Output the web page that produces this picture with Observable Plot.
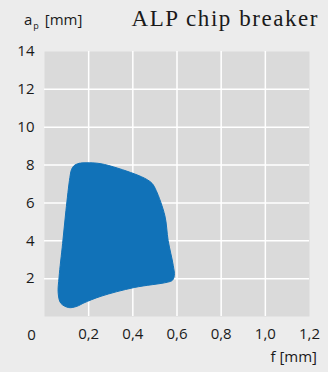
<!DOCTYPE html>
<html>
<head>
<meta charset="utf-8">
<script src="https://cdn.jsdelivr.net/npm/d3@7"></script>
<script src="https://cdn.jsdelivr.net/npm/@observablehq/plot@0.6"></script>
<style>
  html, body { margin: 0; padding: 0; background: #ececec; }
  #wrap { position: relative; width: 328px; height: 372px; overflow: hidden; background: #ececec; }
  .lbl { position: absolute; font-family: "Open Sans", sans-serif; font-size: 15px; color: #1a1a1a; white-space: nowrap; line-height: 1.2; }
  #title { position: absolute; font-family: "Liberation Serif", serif; font-size: 23px; color: #1a1a1a; white-space: nowrap; }
</style>
</head>
<body>
<div id="wrap"></div>
<script>
// Region outline (feed f [mm], depth of cut ap [mm]) traced clockwise
const regionF  = [0.133,0.156,0.188,0.256,0.406,0.465,0.488,0.506,0.545,0.560,0.583,0.588,0.579,0.556,0.406,0.256,0.179,0.147,0.110,0.074,0.062,0.066,0.082,0.097,0.115,0.122];
const regionAp = [7.96,8.09,8.12,8.07,7.54,7.23,7.02,6.65,5.33,4.01,2.70,2.17,1.91,1.81,1.53,1.07,0.72,0.54,0.47,0.70,1.23,2.08,3.86,5.59,7.35,7.75];

const xTicks = [0.2, 0.4, 0.6, 0.8, 1.0, 1.2];
const yTicks = [2, 4, 6, 8, 10, 12, 14];
const xGrid = [0.2, 0.4, 0.6, 0.8, 1.0];
const yGrid = [2, 4, 6, 8, 10, 12];
const originLabel = "0";
const titleText = "ALP chip breaker";
const xLabel = "f [mm]";

const region = regionF.map((f, i) => ({f, ap: regionAp[i]}));
const fmt = v => d3.format(".1f")(v).replace(".", ",");

const chart = Plot.plot({
  width: 328,
  height: 372,
  marginLeft: 44,
  marginRight: 19,
  marginTop: 51,
  marginBottom: 56,
  style: { background: "transparent", fontFamily: "Open Sans, sans-serif", fontSize: "15px", color: "#1a1a1a" },
  x: { domain: [0, 1.2] },
  y: { domain: [0, 14] },
  marks: [
    Plot.frame({ fill: "#dadada", stroke: null }),
    Plot.gridX(xGrid, { stroke: "#ffffff", strokeOpacity: 1, strokeWidth: 1.5 }),
    Plot.gridY(yGrid, { stroke: "#ffffff", strokeOpacity: 1, strokeWidth: 1.5 }),
    Plot.line(region, { x: "f", y: "ap", curve: "catmull-rom-closed", fill: "#1172b8", stroke: "#1172b8", strokeWidth: 1 }),
    Plot.axisX(xTicks, { tickSize: 0, tickPadding: 12, tickFormat: fmt, fontSize: 15, fill: "#1a1a1a", label: null }),
    Plot.axisY(yTicks, { tickSize: 0, tickPadding: 10, tickFormat: d => String(d), fontSize: 15, fill: "#1a1a1a", label: null }),
    Plot.text([originLabel], { x: 0, y: 0, text: d => d, dx: -13, dy: 19, fontSize: 15, fill: "#1a1a1a" })
  ]
});
chart.style.position = "absolute";
chart.style.left = "0px";
chart.style.top = "0px";
const wrap = document.getElementById("wrap");
wrap.appendChild(chart);

const t = document.createElement("div");
t.id = "title";
t.textContent = titleText;
t.style.right = "9px";
t.style.top = "6px";
t.style.letterSpacing = "1.55px";
wrap.appendChild(t);

const yl = document.createElement("div");
yl.className = "lbl";
yl.style.left = "24px";
yl.style.top = "10px";
yl.innerHTML = "a<sub style=\"font-size:9px;vertical-align:-4px;line-height:0;margin:0 2px 0 1px\">p</sub> [mm]";
wrap.appendChild(yl);

const xl = document.createElement("div");
xl.className = "lbl";
xl.textContent = xLabel;
xl.style.right = "11px";
xl.style.top = "347px";
wrap.appendChild(xl);
</script>
</body>
</html>
